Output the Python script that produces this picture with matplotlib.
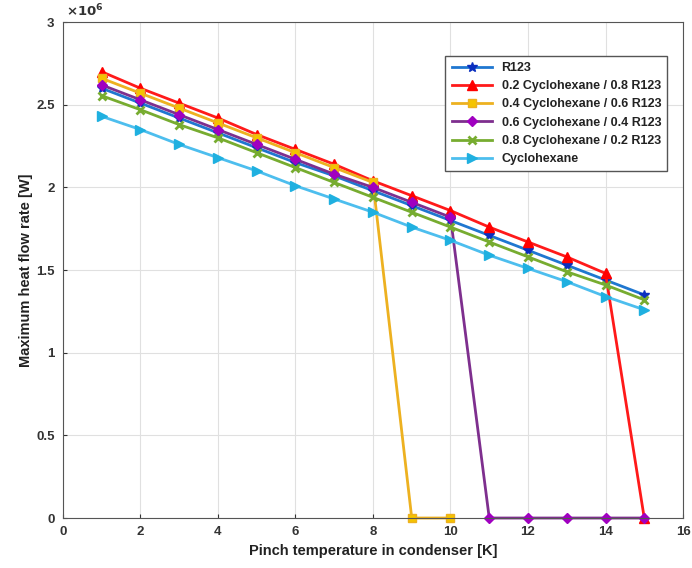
import matplotlib.pyplot as plt
from matplotlib.ticker import FuncFormatter

plt.rcParams['font.family'] = ['Liberation Sans', 'DejaVu Sans']
plt.rcParams['font.weight'] = 'bold'

# pinch temperature [K]
x_full = [1, 2, 3, 4, 5, 6, 7, 8, 9, 10, 11, 12, 13, 14, 15]
x_04 = [1, 2, 3, 4, 5, 6, 7, 8, 9, 10]

# maximum heat flow rate, in units of 1e6 W
r123 = [2.60, 2.51, 2.42, 2.33, 2.24, 2.15, 2.07, 1.98, 1.89, 1.80, 1.71, 1.62, 1.53, 1.44, 1.35]
c02 = [2.70, 2.60, 2.51, 2.42, 2.32, 2.23, 2.14, 2.04, 1.95, 1.86, 1.76, 1.67, 1.58, 1.48, 0.0]
c04 = [2.66, 2.57, 2.48, 2.39, 2.30, 2.21, 2.12, 2.03, 0.0, 0.0]
c06 = [2.62, 2.53, 2.44, 2.35, 2.26, 2.17, 2.08, 2.00, 1.91, 1.82, 0.0, 0.0, 0.0, 0.0, 0.0]
c08 = [2.555, 2.47, 2.38, 2.30, 2.21, 2.12, 2.03, 1.94, 1.85, 1.76, 1.67, 1.58, 1.49, 1.41, 1.32]
cyclo = [2.43, 2.35, 2.26, 2.18, 2.10, 2.01, 1.93, 1.85, 1.76, 1.68, 1.59, 1.51, 1.43, 1.34, 1.26]

fig = plt.figure(figsize=(6.92, 5.68), dpi=100)
ax = fig.add_axes([0.091, 0.088, 0.896, 0.873])

ax.plot(x_full, r123, color='#1f77d0', lw=2, marker='*', ms=7,
        mfc='#0a2fbf', mec='#0a2fbf', label='R123', clip_on=False)
ax.plot(x_full, c02, color='#ff1a1a', lw=2, marker='^', ms=6.5,
        mfc='#ff0000', mec='#ff0000', label='0.2 Cyclohexane / 0.8 R123', clip_on=False)
ax.plot(x_04, c04, color='#EDB120', lw=2, marker='s', ms=5.5,
        mfc='#f5c400', mec='#EDB120', label='0.4 Cyclohexane / 0.6 R123', clip_on=False)
ax.plot(x_full, c06, color='#7E2F8E', lw=2, marker='D', ms=5.5,
        mfc='#a000c0', mec='#a000c0', label='0.6 Cyclohexane / 0.4 R123', clip_on=False)
ax.plot(x_full, c08, color='#77AC30', lw=2, marker='x', ms=6, mew=2,
        label='0.8 Cyclohexane / 0.2 R123', clip_on=False)
ax.plot(x_full, cyclo, color='#4DBEEE', lw=2, marker='>', ms=7,
        mfc='#1fb0e0', mec='#1fb0e0', label='Cyclohexane', clip_on=False)

ax.set_xlim(0, 16)
ax.set_ylim(0, 3)
ax.set_xticks(range(0, 17, 2))
ax.set_yticks([0, 0.5, 1, 1.5, 2, 2.5, 3])
ax.yaxis.set_major_formatter(FuncFormatter(lambda v, p: f'{v:g}'))
ax.grid(True, color='#e0e0e0', lw=0.8)
ax.set_axisbelow(True)
for s in ax.spines.values():
    s.set_color('#555555')
ax.tick_params(colors='#333333', labelsize=9.5, direction='in', length=3, pad=6)

ax.set_xlabel('Pinch temperature in condenser [K]', fontsize=10.5, fontweight='bold',
              color='#222222', labelpad=4)
ax.set_ylabel('Maximum heat flow rate [W]', fontsize=10.5, fontweight='bold',
              color='#222222', labelpad=2)
ax.text(0.005, 1.005, r'$\times10^6$', transform=ax.transAxes, fontsize=9.5,
        color='#333333', ha='left', va='bottom')

leg = ax.legend(loc='upper right', bbox_to_anchor=(0.985, 0.945), fontsize=9,
                fancybox=False, framealpha=1, edgecolor='#555555',
                handlelength=3.2, borderpad=0.5, labelspacing=0.5)
for t in leg.get_texts():
    t.set_fontweight('bold')
    t.set_color('#222222')

fig.savefig('out.png', dpi=100)
